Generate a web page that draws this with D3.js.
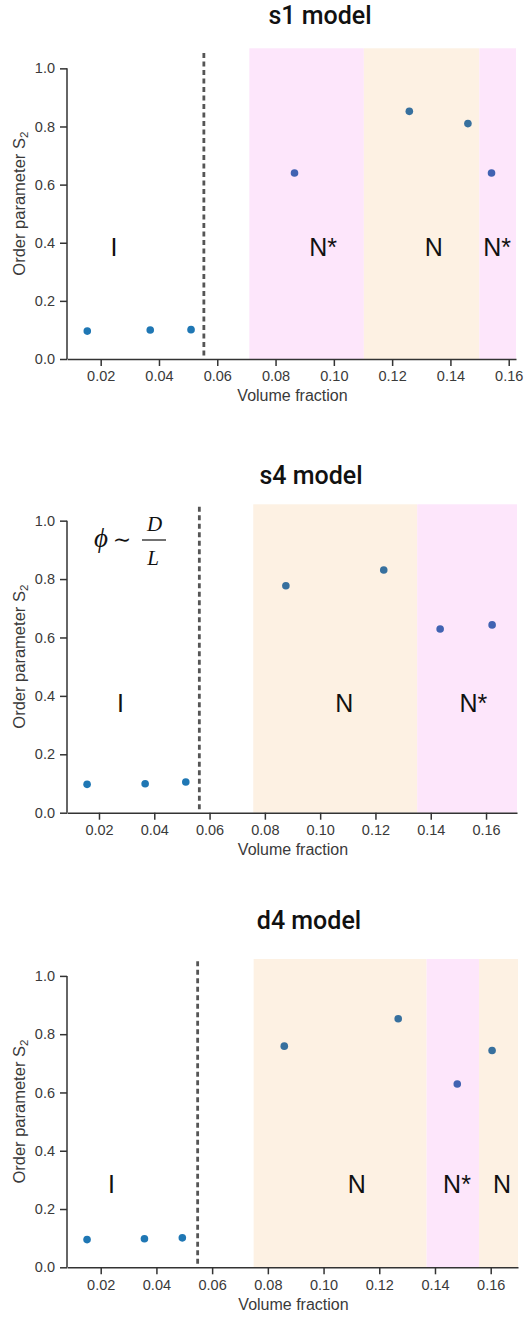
<!DOCTYPE html>
<html>
<head>
<meta charset="utf-8">
<script src="https://cdn.jsdelivr.net/npm/d3@7"></script>
<style>
  html, body { margin: 0; padding: 0; background: #fff; }
  svg { display: block; }
</style>
</head>
<body>
<svg id="chart" width="528" height="1317" font-family="Liberation Sans, Arial, sans-serif"></svg>
<script>
// ---------- DATA ----------
const panelTitles = ["s1 model", "s4 model", "d4 model"];
const xTicks = [0.02, 0.04, 0.06, 0.08, 0.10, 0.12, 0.14, 0.16];
const yTicks = [0.0, 0.2, 0.4, 0.6, 0.8, 1.0];

// volume fraction / order parameter of each simulation
const s1X = [0.0154, 0.0370, 0.0510, 0.0865, 0.1259, 0.1460, 0.1541];
const s1Y = [0.096, 0.100, 0.101, 0.640, 0.852, 0.810, 0.640];
const s4X = [0.0157, 0.0367, 0.0514, 0.0876, 0.1230, 0.1434, 0.1622];
const s4Y = [0.097, 0.099, 0.105, 0.777, 0.831, 0.629, 0.643];
const d4X = [0.0151, 0.0357, 0.0493, 0.0859, 0.1268, 0.1480, 0.1605];
const d4Y = [0.095, 0.098, 0.101, 0.759, 0.853, 0.629, 0.744];

// isotropic / nematic boundary (dashed line)
const boundaries = [0.0554, 0.0563, 0.0548];

// phase regions: start, end, phase
const s1Regions = [[0.0710, 0.1103, "N*"], [0.1103, 0.1499, "N"], [0.1499, 0.1625, "N*"]];
const s4Regions = [[0.0758, 0.1351, "N"], [0.1351, 0.1712, "N*"]];
const d4Regions = [[0.0749, 0.1370, "N"], [0.1370, 0.1558, "N*"], [0.1558, 0.1698, "N"]];

// phase labels: x, y, text
const s1Labels = [[0.0246, 0.354, "I"], [0.0963, 0.354, "N*"], [0.1343, 0.354, "N"], [0.1560, 0.354, "N*"]];
const s4Labels = [[0.0278, 0.346, "I"], [0.1087, 0.346, "N"], [0.1554, 0.346, "N*"]];
const d4Labels = [[0.0239, 0.254, "I"], [0.1119, 0.254, "N"], [0.1479, 0.254, "N*"], [0.1641, 0.254, "N"]];

// axis domains
const xDomains = [[0.00844, 0.1625], [0.00843, 0.1712], [0.0079, 0.1698]];
const yMax = [1.069, 1.056, 1.058];

// ---------- LAYOUT ----------
const layout = [
  { left: 67, right: 516, bottom: 359, top: 48.3, titleX: 320, titleY: 17 },
  { left: 67, right: 517, bottom: 812.7, top: 504.3, titleX: 311, titleY: 477 },
  { left: 67, right: 518, bottom: 1267.3, top: 959, titleX: 309, titleY: 922 }
];
const phaseColor = { "N*": "#fde6fb", "N": "#fdf1e3" };
const dotColor = { "N*": "#4163b2", "N": "#37709e", none: "#1f77b4" };
const axisColor = "#333";
const labelColor = "#3a3a3a";
const sans = "Liberation Sans, Arial, sans-serif";
const serif = "Liberation Serif, DejaVu Serif, serif";

const panels = [
  { x: s1X, y: s1Y, regions: s1Regions, labels: s1Labels },
  { x: s4X, y: s4Y, regions: s4Regions, labels: s4Labels },
  { x: d4X, y: d4Y, regions: d4Regions, labels: d4Labels }
];

const svg = d3.select("#chart");

panels.forEach((p, i) => {
  const L = layout[i];
  const x = d3.scaleLinear().domain(xDomains[i]).range([L.left, L.right]);
  const y = d3.scaleLinear().domain([0, yMax[i]]).range([L.bottom, L.top]);
  const g = svg.append("g");

  // shaded phase regions
  g.selectAll("rect.region").data(p.regions).enter().append("rect")
    .attr("class", "region")
    .attr("x", d => x(d[0]))
    .attr("width", d => x(d[1]) - x(d[0]))
    .attr("y", y(yMax[i]))
    .attr("height", y(0) - y(yMax[i]))
    .attr("fill", d => phaseColor[d[2]]);

  // dashed boundary
  g.append("line")
    .attr("x1", x(boundaries[i])).attr("x2", x(boundaries[i]))
    .attr("y1", y(0.012)).attr("y2", y(yMax[i] - 0.006))
    .attr("stroke", "#555").attr("stroke-width", 2.8)
    .attr("stroke-dasharray", "5,3.5");

  // phase labels
  g.selectAll("text.phase").data(p.labels).enter().append("text")
    .attr("class", "phase")
    .attr("x", d => x(d[0])).attr("y", d => y(d[1]))
    .attr("text-anchor", "middle")
    .attr("font-family", sans)
    .attr("font-size", 25)
    .attr("fill", "#111")
    .text(d => d[2]);

  // points
  const pts = p.x.map((v, k) => [v, p.y[k]]);
  const regionOf = v => {
    const r = p.regions.find(d => v >= d[0] && v < d[1]);
    return r ? r[2] : "none";
  };
  g.selectAll("circle").data(pts).enter().append("circle")
    .attr("cx", d => x(d[0])).attr("cy", d => y(d[1]))
    .attr("r", 3.8)
    .attr("fill", d => dotColor[regionOf(d[0])]);

  // x axis
  const xAxis = d3.axisBottom(x).tickValues(xTicks).tickFormat(d3.format(".2f"))
    .tickSize(7).tickPadding(5).tickSizeOuter(0);
  const gx = g.append("g").attr("transform", `translate(0,${L.bottom})`).call(xAxis);
  gx.attr("font-family", sans);
  gx.select(".domain").attr("stroke", axisColor).attr("stroke-width", 1.5);
  gx.selectAll(".tick line").attr("stroke", axisColor).attr("stroke-width", 1.5);
  gx.selectAll(".tick text").attr("font-size", 14.5).attr("fill", labelColor);

  // y axis (spine trimmed to 0..1)
  const yAxis = d3.axisLeft(y).tickValues(yTicks).tickFormat(d3.format(".1f"))
    .tickSize(7).tickPadding(5).tickSizeOuter(0);
  const gy = g.append("g").attr("transform", `translate(${L.left},0)`).call(yAxis);
  gy.attr("font-family", sans);
  gy.select(".domain").attr("d", `M0,${y(1)}V${y(0)}`)
    .attr("stroke", axisColor).attr("stroke-width", 1.5);
  gy.selectAll(".tick line").attr("stroke", axisColor).attr("stroke-width", 1.5);
  gy.selectAll(".tick text").attr("font-size", 14.5).attr("fill", labelColor);

  // x label
  g.append("text")
    .attr("x", (L.left + L.right) / 2 + 1).attr("y", L.bottom + 38)
    .attr("text-anchor", "middle").attr("dominant-baseline", "middle")
    .attr("font-family", sans)
    .attr("font-size", 16).attr("fill", labelColor)
    .text("Volume fraction");

  // y label
  const yl = g.append("text")
    .attr("transform", `translate(21,${(y(0) + y(1)) / 2 - 10}) rotate(-90)`)
    .attr("text-anchor", "middle").attr("dominant-baseline", "middle")
    .attr("font-family", sans)
    .attr("font-size", 16.5).attr("fill", labelColor);
  yl.append("tspan").text("Order parameter ");
  yl.append("tspan").text("S");
  yl.append("tspan").attr("font-size", 11.5).attr("dy", 4).text("2");

  // title
  g.append("text")
    .attr("x", L.titleX).attr("y", L.titleY)
    .attr("text-anchor", "middle").attr("dominant-baseline", "middle")
    .attr("font-family", "Roboto, Liberation Sans, sans-serif")
    .attr("font-size", 25).attr("font-weight", 500).attr("fill", "#111")
    .text(panelTitles[i]);
});

// formula in s4 panel
{
  const f = svg.append("g").attr("fill", "#111");
  f.append("text").attr("x", 101).attr("y", 547).attr("text-anchor", "middle")
    .attr("font-family", serif).attr("font-size", 27).attr("font-style", "italic").text("ϕ");
  f.append("text").attr("x", 122).attr("y", 547).attr("text-anchor", "middle")
    .attr("font-family", serif).attr("font-size", 22).text("∼");
  f.append("text").attr("x", 154.5).attr("y", 531).attr("text-anchor", "middle")
    .attr("font-family", serif).attr("font-size", 21).attr("font-style", "italic").text("D");
  f.append("line").attr("x1", 142).attr("x2", 166).attr("y1", 540).attr("y2", 540)
    .attr("stroke", "#111").attr("stroke-width", 1.2);
  f.append("text").attr("x", 153).attr("y", 565).attr("text-anchor", "middle")
    .attr("font-family", serif).attr("font-size", 21).attr("font-style", "italic").text("L");
}
</script>
</body>
</html>
